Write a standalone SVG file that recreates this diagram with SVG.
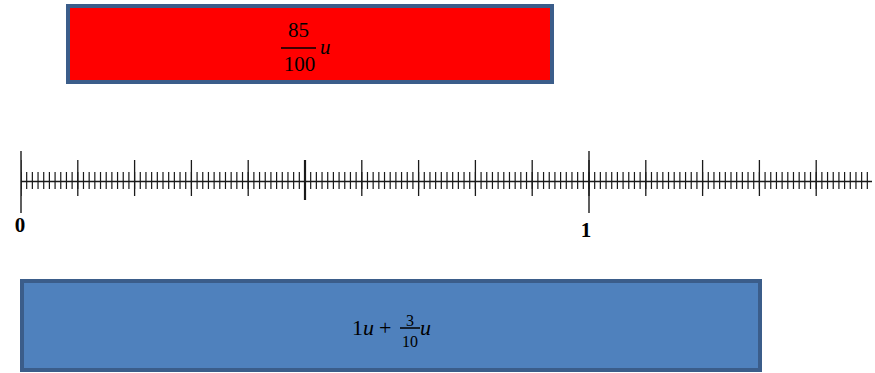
<svg xmlns="http://www.w3.org/2000/svg" width="875" height="373" viewBox="0 0 875 373">
<style>
.box{stroke:#3B5D8A;stroke-width:4}
.t{font-family:"Liberation Serif","Times New Roman",serif;fill:#000}
.i{font-style:italic}
.lbl{font-family:"Liberation Serif","Times New Roman",serif;font-weight:bold;font-size:21px;fill:#000;text-anchor:middle}
.tick{stroke:#1a1a1a;fill:none}
</style>
<rect width="875" height="373" fill="#fff"/>
<g id="red-bar">
<rect class="box" x="68" y="6" width="484" height="76" fill="#FF0000"/>
<text class="t" x="298.5" y="37" font-size="21" text-anchor="middle">85</text>
<line x1="281" y1="48" x2="316" y2="48" stroke="#000" stroke-width="1.4"/>
<text class="t" x="299.5" y="71" font-size="21" text-anchor="middle">100</text>
<text class="t i" x="320" y="54" font-size="21">u</text>
</g>
<g id="number-line">
<line class="tick" x1="21" y1="181.5" x2="872" y2="181.5" stroke-width="1.6"/>
<line class="tick" x1="21" y1="180.5" x2="872" y2="180.5" stroke-width="17" stroke-dasharray="1.2 4.48" stroke-dashoffset="0.6"/>
<line class="tick" x1="21" y1="178" x2="872" y2="178" stroke-width="36" stroke-dasharray="1.3 55.5" stroke-dashoffset="0.65" stroke="#333"/>
<line class="tick" x1="21" y1="151" x2="21" y2="213" stroke-width="1.4"/>
<line class="tick" x1="305" y1="160" x2="305" y2="200" stroke-width="2.2"/>
<line class="tick" x1="589" y1="151" x2="589" y2="213" stroke-width="1.4" stroke="#444"/>
<text class="lbl" x="20" y="232" font-size="22">0</text>
<text class="lbl" x="586" y="237">1</text>
</g>
<g id="blue-bar">
<rect class="box" x="22" y="281" width="738" height="89" fill="#4F81BD"/>
<text class="t" x="352" y="335" font-size="22">1<tspan class="i">u</tspan></text>
<text class="t" x="379" y="335" font-size="22">+</text>
<line x1="400" y1="328" x2="420" y2="328" stroke="#000" stroke-width="1.5"/>
<text class="t" x="410" y="326" font-size="16" text-anchor="middle">3</text>
<text class="t" x="410" y="347" font-size="16" text-anchor="middle">10</text>
<text class="t i" x="420" y="335" font-size="22">u</text>
</g>
</svg>
